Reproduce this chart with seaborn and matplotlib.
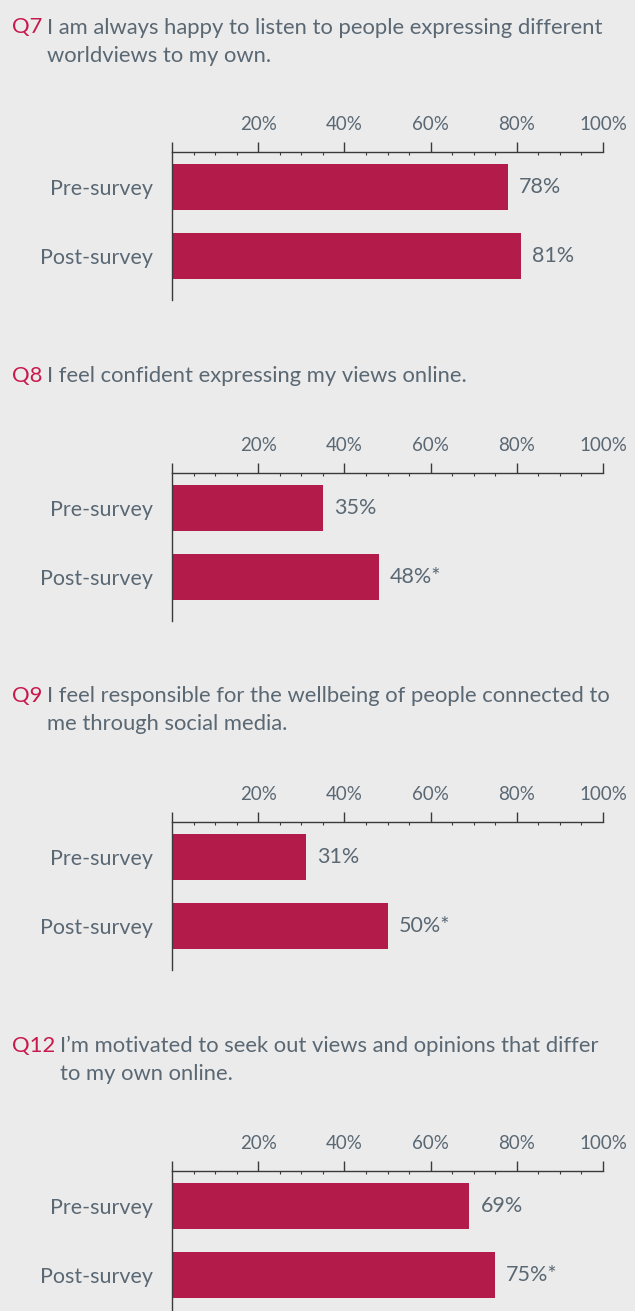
import matplotlib
matplotlib.use("Agg")
import matplotlib.pyplot as plt
import seaborn as sns
import pandas as pd
from matplotlib.ticker import FixedLocator

# Survey results: share of respondents agreeing, before and after the programme
question_ids = ["Q7", "Q8", "Q9", "Q12"]
question_lines = [
    ["I am always happy to listen to people expressing different", "worldviews to my own."],
    ["I feel confident expressing my views online."],
    ["I feel responsible for the wellbeing of people connected to", "me through social media."],
    ["I\u2019m motivated to seek out views and opinions that differ", "to my own online."],
]
stages = ["Pre-survey", "Post-survey"]
pre_values = [78, 35, 31, 69]
post_values = [81, 48, 50, 75]
significant = [[False, False], [False, True], [False, True], [False, True]]
tick_values = [0, 20, 40, 60, 80, 100]
tick_labels = ["", "20%", "40%", "60%", "80%", "100%"]

BG = "#ebebeb"
BAR = "#b31b4b"
TEXT = "#5a6874"
ACCENT = "#c8194d"
SPINE = "#3a3a3a"

sns.set_theme(style="white")
plt.rcParams["font.family"] = ["Lato", "DejaVu Sans"]

W, H = 635, 1311
fig = plt.figure(figsize=(W / 100, H / 100), dpi=100, facecolor=BG)

# panel geometry in pixels (top-down)
x0, x1 = 172, 603
axis_tops = [152, 473, 822, 1171]
title_baselines = [[33.5, 61.5], [381.7], [702.3, 730.5], [1052.3, 1080.5]]
unit = 69.5
y_top, y_bottom = -0.5, 1.636
ax_h = (y_bottom - y_top) * unit

renderer = fig.canvas.get_renderer()

for i, qid in enumerate(question_ids):
    top = axis_tops[i]
    ax = fig.add_axes([x0 / W, 1 - (top + ax_h) / H, (x1 - x0) / W, ax_h / H])
    ax.set_facecolor(BG)
    df = pd.DataFrame({"stage": stages, "value": [pre_values[i], post_values[i]]})
    sns.barplot(data=df, x="value", y="stage", orient="h", color=BAR,
                saturation=1, width=0.66, ax=ax, edgecolor="none")
    ax.set_xlim(0, 100)
    ax.set_ylim(y_bottom, y_top)
    ax.set_xlabel("")
    ax.set_ylabel("")

    for side in ["right", "bottom"]:
        ax.spines[side].set_visible(False)
    for side in ["top", "left"]:
        ax.spines[side].set_color(SPINE)
        ax.spines[side].set_linewidth(1.0)

    ax.xaxis.tick_top()
    ax.set_xticks(tick_values)
    ax.set_xticklabels(tick_labels)
    ax.xaxis.set_minor_locator(FixedLocator([v for v in range(5, 100, 5) if v % 20]))
    ax.tick_params(axis="x", which="major", direction="out", length=7.2, width=1.0,
                   color=SPINE, pad=6.5, labelsize=13.5, labelcolor=TEXT)
    ax.tick_params(axis="x", which="minor", direction="in", length=2.0, width=0.8,
                   color=SPINE)
    ax.tick_params(axis="y", which="major", length=0, pad=14, labelsize=15.5,
                   labelcolor=TEXT)
    ax.yaxis.set_minor_locator(FixedLocator([0.5, 1.5]))
    ax.tick_params(axis="y", which="minor", direction="in", length=2, width=0.8,
                   color=SPINE)
    ax.grid(False)

    for j, bar in enumerate(ax.patches):
        val = [pre_values[i], post_values[i]][j]
        label = f"{val}%" + ("*" if significant[i][j] else "")
        ax.text(val + 11 / 4.31, bar.get_y() + bar.get_height() / 2, label,
                va="center", ha="left", fontsize=15.5, color=TEXT)

    # question heading with hanging indent
    b0 = title_baselines[i][0]
    qt = fig.text(12 / W, 1 - b0 / H, qid, color=ACCENT, fontsize=15.8,
                  va="baseline", ha="left")
    bb = qt.get_window_extent(renderer)
    body_x = (bb.x1 + 4.5) / W
    for line, b in zip(question_lines[i], title_baselines[i]):
        fig.text(body_x, 1 - b / H, line, color=TEXT, fontsize=15.8,
                 va="baseline", ha="left")

fig.savefig("out.png", dpi=100, facecolor=BG)
